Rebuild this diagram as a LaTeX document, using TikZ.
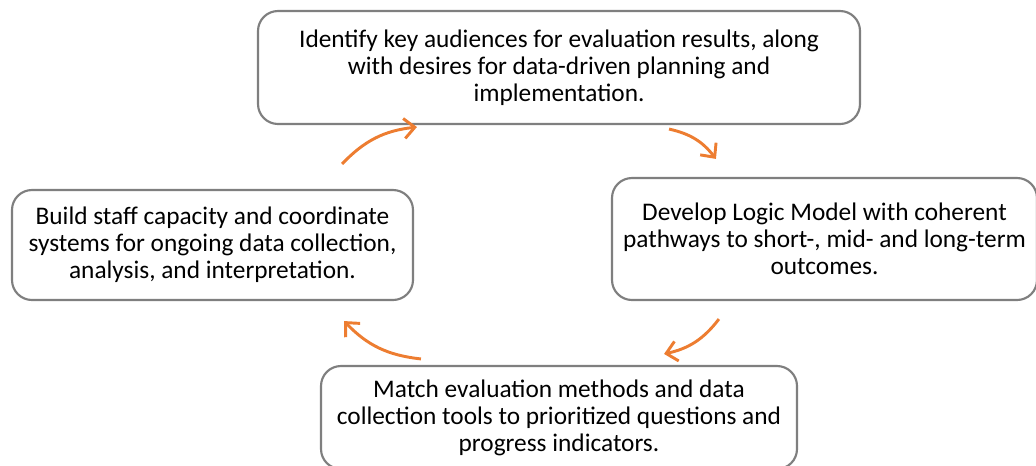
\documentclass[tikz,border=0pt]{standalone}
\usepackage{fontspec}
\setmainfont{Carlito}
\usetikzlibrary{arrows.meta}
\definecolor{boxgray}{HTML}{7F7F7F}
\definecolor{cycorange}{HTML}{ED7D31}
\tikzset{stage/.style={draw=boxgray,line width=1.6pt,rounded corners=15pt,fill=white,align=center,inner sep=0pt,font=\fontsize{19}{20.3}\selectfont}}
\tikzset{cyc/.style={draw=cycorange,line width=2.2pt,bend left=20,-{Straight Barb[length=8pt,width=15pt,line width=2.2pt]}}}

\begin{document}
\begin{tikzpicture}[x=0.75pt,y=-0.75pt]
	\useasboundingbox (0,0) rectangle (1036,465);
	\node[stage,minimum width=451.5pt,minimum height=84.75pt] (top) at (559,67.5) {Identify key audiences for evaluation results, along\\with desires for data-driven planning and\\implementation.};
	\node[stage,minimum width=318.75pt,minimum height=91.5pt] (right) at (824.5,239) {Develop Logic Model with coherent\\pathways to short-, mid- and long-term\\outcomes.};
	\node[stage,minimum width=357pt,minimum height=77.25pt] (bottom) at (559,417.5) {Match evaluation methods and data\\collection tools to prioritized questions and\\progress indicators.};
	\node[stage,minimum width=300.75pt,minimum height=82.5pt] (left) at (212.5,245) {Build staff capacity and coordinate\\systems for ongoing data collection,\\analysis, and interpretation.};
	% cycle arrows
	\draw[cyc] ([shift={(-72,-25)}]left.north east) to ([shift={(160,2)}]top.south west);
	\draw[cyc] ([shift={(-192,4)}]top.south east) to ([shift={(105,-18)}]right.north west);
	\draw[cyc] ([shift={(108,18)}]right.south west) to ([shift={(-134,-11)}]bottom.north east);
	\draw[cyc] ([shift={(101,-6)}]bottom.north west) to ([shift={(-70,20)}]left.south east);
\end{tikzpicture}
\end{document}
